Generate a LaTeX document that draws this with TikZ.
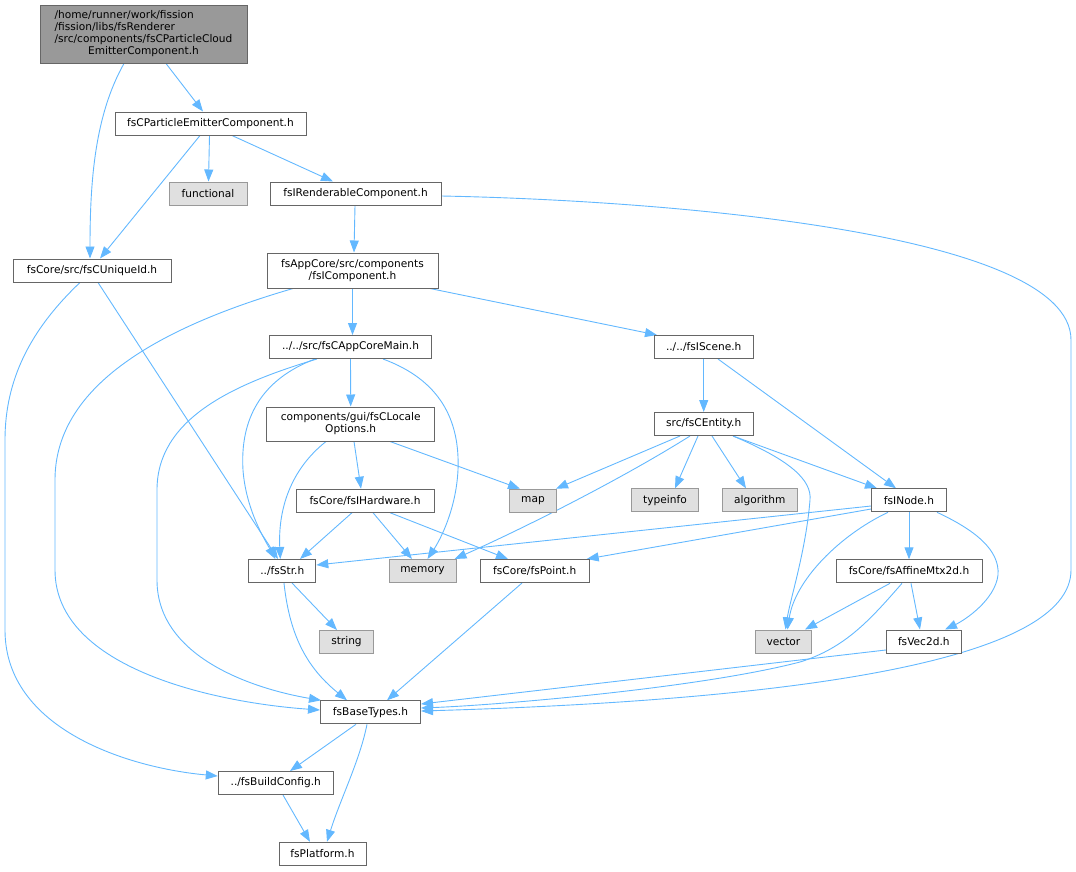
\documentclass[tikz,border=0pt]{standalone}
\usepackage{fontspec}
\setmainfont{DejaVu Sans}
\usetikzlibrary{arrows.meta}
\definecolor{edgeblue}{HTML}{63B8FF}
\definecolor{boxborder}{HTML}{666666}
\definecolor{sysfill}{HTML}{E0E0E0}
\definecolor{sysborder}{HTML}{999999}
\definecolor{rootfill}{HTML}{999999}
\pgfdeclarelayer{bg}
\pgfsetlayers{bg,main}
\begin{document}
\begin{tikzpicture}[x=1pt,y=-1pt,
  box/.style={draw=boxborder, fill=white, line width=1pt, inner sep=0pt,
    font=\fontsize{10.6}{12}\selectfont, align=center, minimum height=23pt},
  sysbox/.style={box, draw=sysborder, fill=sysfill},
  rootbox/.style={box, fill=rootfill},
  edge/.style={draw=edgeblue, line width=0.9pt, -{Triangle[length=12pt,width=9pt]}},
]
\useasboundingbox (0,0) rectangle (1076,871);

\node[rootbox, minimum width=207pt, minimum height=58pt] (root) at (143.5,34)
  {\begin{tabular}{@{}l@{}}/home/runner/work/fission\\/fission/libs/fsRenderer\\/src/components/fsCParticleCloud\\\multicolumn{1}{@{}c@{}}{EmitterComponent.h}\end{tabular}};
\node[box, minimum width=191pt] (pec) at (210.5,123.5) {fsCParticleEmitterComponent.h};
\node[sysbox, minimum width=78pt] (functional) at (208,193.5) {functional};
\node[box, minimum width=171pt] (rend) at (355.5,193.5) {fsIRenderableComponent.h};
\node[box, minimum width=158pt] (uid) at (92,270.5) {fsCore/src/fsCUniqueId.h};
\node[box, minimum width=171pt, minimum height=35pt] (comp) at (352.5,270.5) {fsAppCore/src/components\\/fsIComponent.h};
\node[box, minimum width=162pt] (main) at (350.5,347) {../../src/fsCAppCoreMain.h};
\node[box, minimum width=99pt] (scene) at (703.7,347) {../../fsIScene.h};
\node[box, minimum width=168pt, minimum height=34pt] (locale) at (350.7,424) {components/gui/fsCLocale\\Options.h};
\node[box, minimum width=99pt] (entity) at (703.7,424) {src/fsCEntity.h};
\node[box, minimum width=138pt] (hw) at (365,500.7) {fsCore/fsIHardware.h};
\node[sysbox, minimum width=47pt] (map) at (533,500.7) {map};
\node[sysbox, minimum width=67pt] (typeinfo) at (665,500.3) {typeinfo};
\node[sysbox, minimum width=75pt] (algorithm) at (759.8,500.3) {algorithm};
\node[box, minimum width=75pt] (inode) at (909,500.3) {fsINode.h};
\node[box, minimum width=67pt] (str) at (282.3,571) {../fsStr.h};
\node[sysbox, minimum width=67pt] (memory) at (422.5,571) {memory};
\node[box, minimum width=109pt] (point) at (534.7,571) {fsCore/fsPoint.h};
\node[box, minimum width=146pt] (affine) at (909,571.3) {fsCore/fsAffineMtx2d.h};
\node[sysbox, minimum width=54pt] (string) at (346.5,642) {string};
\node[sysbox, minimum width=56pt] (vector) at (783.5,641.5) {vector};
\node[box, minimum width=75pt] (vec2d) at (923.8,641.5) {fsVec2d.h};
\node[box, minimum width=100pt] (base) at (370.5,712.3) {fsBaseTypes.h};
\node[box, minimum width=115pt] (build) at (275.8,783) {../fsBuildConfig.h};
\node[box, minimum width=87pt] (platform) at (322.5,853.8) {fsPlatform.h};

\begin{pgfonlayer}{bg}
% root
\draw[edge] ([xshift=22.5pt]root.south) -- ([xshift=-7.5pt]pec.north);
\draw[edge] ([xshift=-19.5pt]root.south) .. controls (95,115) and (90,180) .. ([xshift=-2pt]uid.north);
% pec
\draw[edge] ([xshift=-10.5pt]pec.south) -- ([xshift=8pt]uid.north);
\draw[edge] ([xshift=-1pt]pec.south) -- ([xshift=0.5pt]functional.north);
\draw[edge] ([xshift=21.5pt]pec.south) -- ([xshift=-22.5pt]rend.north);
% rend
\draw[edge] ([xshift=-0.5pt]rend.south) -- ([xshift=1.5pt]comp.north);
\draw[edge] ([yshift=-2.5pt]rend.east) .. controls (650,200) and (1071,230) .. (1071,340)
  -- (1071,570) .. controls (1071,660) and (800,700) .. ([yshift=1.3pt]base.east);
% uid
\draw[edge] ([xshift=6pt]uid.south) -- ([xshift=-4.3pt]str.north);
\draw[edge] ([xshift=-12pt]uid.south) .. controls (30,330) and (5,380) .. (5,440)
  -- (5,630) .. controls (5,730) and (130,768) .. ([yshift=7pt]build.west);
% comp
\draw[edge] (comp.south) -- ([xshift=2pt]main.north);
\draw[edge] ([xshift=77.5pt]comp.south) -- ([xshift=-46.7pt]scene.north);
\draw[edge] ([xshift=-59.5pt]comp.south) .. controls (150,330) and (55,390) .. (55,480)
  -- (55,570) .. controls (55,670) and (220,703) .. ([yshift=2.3pt]base.west);
% main
\draw[edge] ([xshift=-33.5pt]main.south) .. controls (230,385) and (157,420) .. (157,490)
  -- (157,580) .. controls (157,660) and (260,690) .. ([xshift=1pt]base.north west);
\draw[edge] ([xshift=-35.5pt]main.south) .. controls (260,380) and (240,420) .. (243,470)
  .. controls (246,510) and (265,540) .. ([xshift=-7pt]str.north);
\draw[edge] (main.south) -- (locale.north);
\draw[edge] ([xshift=32.5pt]main.south) .. controls (440,380) and (460,420) .. (458,470)
  .. controls (456,510) and (440,540) .. ([xshift=5pt]memory.north);
% locale
\draw[edge] ([xshift=-24.7pt]locale.south) .. controls (290,470) and (278,510) .. ([xshift=-2pt]str.north);
\draw[edge] ([xshift=3.3pt]locale.south) -- ([xshift=-4pt]hw.north);
\draw[edge] ([xshift=39.3pt]locale.south) -- ([xshift=-13pt]map.north);
% hw
\draw[edge] ([xshift=-13pt]hw.south) -- ([xshift=17.7pt]str.north);
\draw[edge] ([xshift=8pt]hw.south) -- ([xshift=-10.5pt]memory.north);
\draw[edge] ([xshift=25pt]hw.south) -- ([xshift=-26.7pt]point.north);
% scene
\draw[edge] (scene.south) -- (entity.north);
\draw[edge] ([xshift=14.3pt]scene.south) -- ([xshift=-13pt]inode.north);
% entity
\draw[edge] ([xshift=-23.7pt]entity.south) -- ([xshift=-1pt]map.north east);
\draw[edge] ([xshift=-13.7pt]entity.south) .. controls (620,480) and (520,530) .. ([xshift=-2pt]memory.north east);
\draw[edge] ([xshift=-5.7pt]entity.south) -- ([xshift=10pt]typeinfo.north);
\draw[edge] ([xshift=8.3pt]entity.south) -- ([xshift=-13.8pt]algorithm.north);
\draw[edge] ([xshift=29.3pt]entity.south) .. controls (790,460) and (812,480) .. (810,500)
  .. controls (806,550) and (790,600) .. ([xshift=2pt]vector.north);
\draw[edge] ([xshift=29.3pt]entity.south) -- ([xshift=-32pt]inode.north);
% inode
\draw[edge] ([yshift=-5.7pt]inode.west) -- ([yshift=6pt]str.east);
\draw[edge] ([yshift=-8.7pt]inode.west) -- ([xshift=-3pt]point.north east);
\draw[edge] ([xshift=-21pt]inode.south) .. controls (840,535) and (795,580) .. ([xshift=4pt]vector.north);
\draw[edge] (inode.south) -- (affine.north);
\draw[edge] ([xshift=28pt]inode.south) .. controls (975,530) and (1000,550) .. (998,575)
  .. controls (995,600) and (965,620) .. ([xshift=21.2pt]vec2d.north);
% affine
\draw[edge] ([xshift=-19pt]affine.south) -- ([xshift=21.5pt]vector.north);
\draw[edge] ([xshift=2pt]affine.south) -- ([xshift=-3.8pt]vec2d.north);
\draw[edge] ([xshift=-7pt]affine.south) .. controls (870,620) and (845,648) .. (800,662)
  .. controls (700,688) and (500,705) .. ([yshift=4.3pt]base.east);
% vec2d, point, str
\draw[edge] ([yshift=-8.5pt]vec2d.west) -- ([yshift=8.3pt]base.east);
\draw[edge] ([xshift=-12.7pt]point.south) -- ([xshift=16.5pt]base.north);
\draw[edge] ([xshift=9.7pt]str.south) -- ([xshift=-9.5pt]string.north);
\draw[edge] ([xshift=1.7pt]str.south) .. controls (290,640) and (310,670) .. ([xshift=-23.5pt]base.north);
% base, build
\draw[edge] ([xshift=-14.5pt]base.south) -- ([xshift=14.2pt]build.north);
\draw[edge] ([xshift=-3.5pt]base.south) .. controls (360,760) and (340,800) .. ([xshift=4.5pt]platform.north);
\draw[edge] ([xshift=7.2pt]build.south) -- ([xshift=-12.5pt]platform.north);
\end{pgfonlayer}
\end{tikzpicture}
\end{document}
